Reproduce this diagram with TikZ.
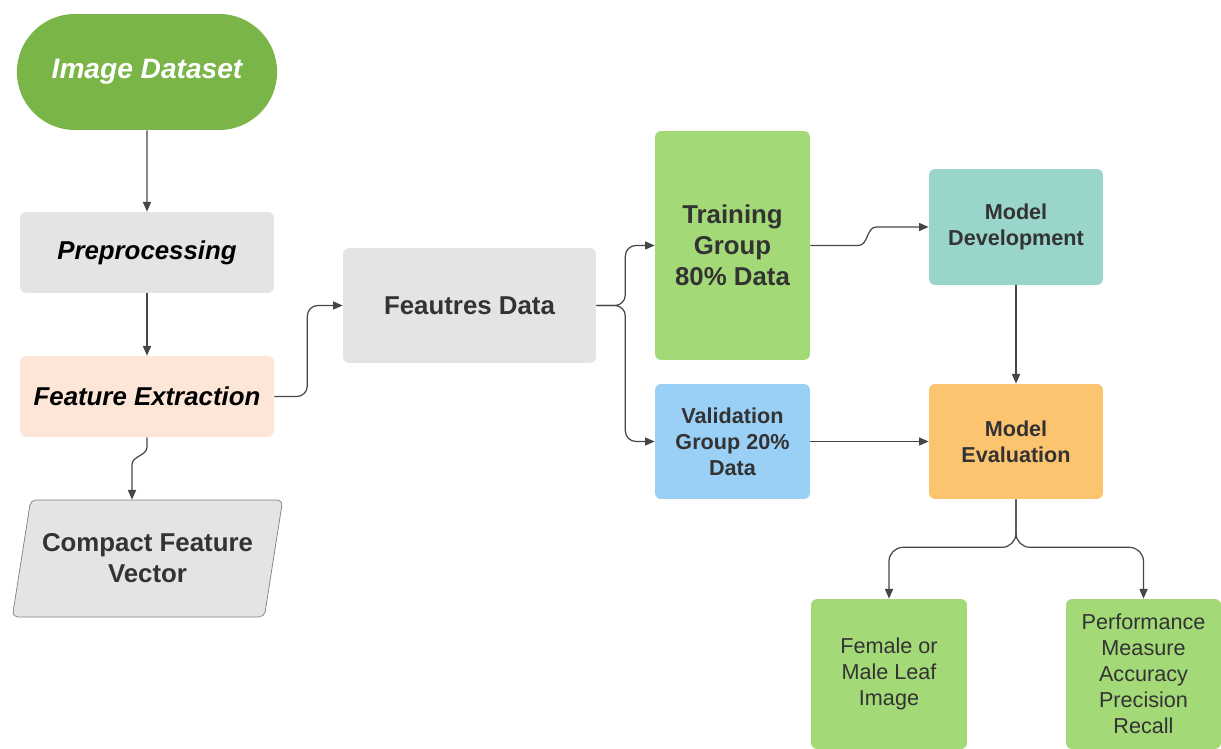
\documentclass[tikz,border=0pt]{standalone}
\usepackage{fontspec}
\setmainfont{Liberation Sans}
\usetikzlibrary{arrows.meta,shapes.geometric,shapes.misc,calc}
\definecolor{leafgreen}{RGB}{122,181,71}
\definecolor{lightgreen}{RGB}{163,217,119}
\definecolor{boxgray}{RGB}{228,228,228}
\definecolor{peach}{RGB}{253,230,216}
\definecolor{skyblue}{RGB}{154,208,245}
\definecolor{teal}{RGB}{153,213,202}
\definecolor{orange}{RGB}{252,196,111}
\definecolor{txtgray}{RGB}{51,51,51}
\definecolor{arrgray}{RGB}{70,70,70}

\begin{document}
\begin{tikzpicture}[x=0.02cm, y=-0.02cm,
    box/.style={rounded corners=3.5pt, align=center, text=txtgray, inner sep=2pt},
    big/.style={font=\fontsize{14.7}{17.6}\selectfont\bfseries},
    bigit/.style={font=\fontsize{14.7}{17.6}\selectfont\bfseries\itshape},
    small/.style={font=\fontsize{12.3}{14.8}\selectfont\bfseries},
    plain/.style={font=\fontsize{12.3}{14.8}\selectfont},
    arr/.style={draw=arrgray, line width=0.7pt, -{Triangle[length=5.5pt, width=4.6pt]}}]
    \useasboundingbox (0,0) rectangle (1221,749);
    \node[rounded rectangle, fill=leafgreen, text=white, minimum width=5.44cm, minimum height=2.32cm,
        font=\fontsize{16}{19}\selectfont\bfseries\itshape] (data) at (147,72) {Image Dataset};
    \node[box, bigit, fill=boxgray, text=black, minimum width=5.08cm, minimum height=1.62cm] (pre) at (147,252.5) {Preprocessing};
    \node[box, bigit, fill=peach, text=black, minimum width=5.08cm, minimum height=1.62cm] (fe) at (147,396.5) {Feature Extraction};
    \node[trapezium, trapezium left angle=74, trapezium right angle=106, trapezium stretches=true,
        draw=gray, fill=boxgray, rounded corners=3pt, minimum width=5.42cm, minimum height=2.34cm,
        align=center, text=txtgray, big] (cvec) at (147.5,558.5) {Compact Feature\\Vector};
    \node[box, big, fill=boxgray, minimum width=5.06cm, minimum height=2.3cm] (feat) at (469.5,305.5) {Feautres Data};
    \node[box, big, fill=lightgreen, minimum width=3.1cm, minimum height=4.58cm] (train) at (732.5,245.5) {Training\\Group\\80\% Data};
    \node[box, small, fill=skyblue, minimum width=3.1cm, minimum height=2.3cm] (valid) at (732.5,441.5) {Validation\\Group 20\%\\Data};
    \node[box, small, fill=teal, minimum width=3.48cm, minimum height=2.32cm] (dev) at (1016,227) {Model\\Development};
    \node[box, small, fill=orange, minimum width=3.48cm, minimum height=2.3cm] (eval) at (1016,441.5) {Model\\Evaluation};
    \node[box, plain, fill=lightgreen, minimum width=3.12cm, minimum height=3cm] (leaf) at (889,674) {Female or\\Male Leaf\\Image};
    \node[box, plain, fill=lightgreen, minimum width=3.1cm, minimum height=3cm] (perf) at (1143.5,674) {Performance\\Measure\\Accuracy\\Precision\\Recall};
    \draw[arr] (data) -- (pre);
    \draw[arr] (pre) -- (fe);
    \draw[arr, rounded corners=6pt] (fe.east) -- ++(33,0) |- (feat.west);
    \draw[arr] (fe.south) -- ++(0,10) .. controls +(0,8) and +(0,-8) .. ++(-15,17) -- ($(fe.south |- cvec.north)+(-15,0)$);
    \draw[arr, rounded corners=6pt] (feat.east) -- ++(29,0) |- (train.west);
    \draw[arr, rounded corners=6pt] (feat.east) -- ++(29,0) |- (valid.west);
    \draw[arr] (train.east) -- ++(48,0) .. controls +(10,0) and +(-10,0) .. ++(18,-18.5) -- (dev.west);
    \draw[arr] (valid) -- (eval);
    \draw[arr] (dev) -- (eval);
    \draw[arr, rounded corners=8pt] (eval.south) -- ++(0,48) -| (leaf.north);
    \draw[arr, rounded corners=8pt] (eval.south) -- ++(0,48) -| (perf.north);
\end{tikzpicture}
\end{document}
